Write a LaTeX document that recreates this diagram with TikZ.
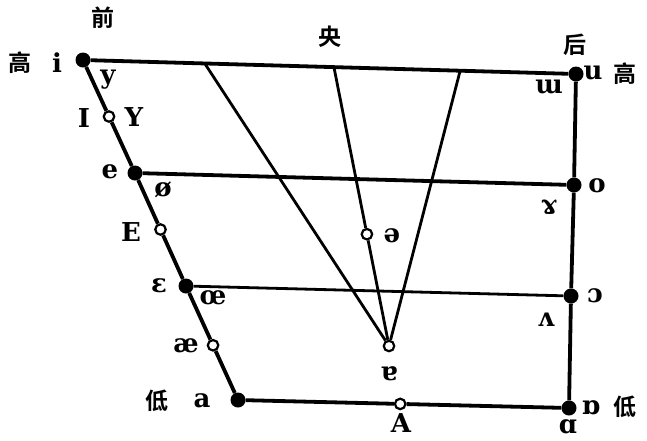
\documentclass[tikz,border=0pt]{standalone}
\usepackage{fontspec}
\setmainfont{DejaVu Serif}
\newfontfamily\cjk{Noto Sans CJK SC}[BoldFont={Noto Sans CJK SC Bold}]
\usetikzlibrary{calc}
\tikzset{
  vowel-full/.style={circle,fill=black,inner sep=0pt,minimum size=15pt},
  vowel-open/.style={circle,draw=black,fill=white,line width=2.2pt,inner sep=0pt,minimum size=10.5pt},
  edge-main/.style={line width=3.8pt},
  edge-mid/.style={line width=2.8pt},
  ipa-label/.style={inner sep=0pt,font=\bfseries\fontsize{26}{30}\selectfont},
  cjk-label/.style={inner sep=0pt,font=\cjk\bfseries\fontsize{23}{26}\selectfont},
}

\begin{document}
\begin{tikzpicture}[x=1pt,y=-1pt]
  \useasboundingbox (0,0) rectangle (647,440);
  % corner and edge vowels
  \node[vowel-full] (i)   at (83,60)   {};
  \node[vowel-full] (u)   at (576,74)  {};
  \node[vowel-full] (e)   at (135,173) {};
  \node[vowel-full] (o)   at (574,185) {};
  \node[vowel-full] (eps) at (186,286) {};
  \node[vowel-full] (oo)  at (571,296) {};
  \node[vowel-full] (a)   at (238,400) {};
  \node[vowel-full] (ao)  at (569,408) {};
  % points on the top line
  \coordinate (t1) at ($(i)!0.247!(u)$);
  \coordinate (t2) at ($(i)!0.509!(u)$);
  \coordinate (t3) at ($(i)!0.765!(u)$);
  % open vowels in between
  \node[vowel-open] (ce)    at (389,346) {};
  \node[vowel-open] (schwa) at ($(t2)!0.599!(ce)$) {};
  \node[vowel-open] (iy)    at ($(i)!0.5!(e)$) {};
  \node[vowel-open] (E)     at ($(e)!0.5!(eps)$) {};
  \node[vowel-open] (ae)    at ($(eps)!0.52!(a)$) {};
  \node[vowel-open] (A)     at ($(a)!0.49!(ao)$) {};

  % lines
  \draw[edge-main] (i) -- (u);
  \draw[edge-main] (u) -- (o) -- (oo) -- (ao);
  \draw[edge-main] (a) -- (A) -- (ao);
  \draw[edge-main] (i) -- (iy) -- (e) -- (E) -- (eps) -- (ae) -- (a);
  \draw[edge-main] (e) -- (o);
  \draw[edge-mid] (eps) -- (oo);
  \draw[edge-mid] (t1) -- (ce);
  \draw[edge-mid] (t2) -- (schwa) -- (ce);
  \draw[edge-mid] (t3) -- (ce);

  % labels
  \node[cjk-label] (l-front) at (103,18)  {前};
  \node[cjk-label] (l-mid)   at (330,37)  {央};
  \node[cjk-label] (l-back)  at (575,45)  {后};
  \node[cjk-label] (l-hi1)   at (20,63)   {高};
  \node[cjk-label] (l-hi2)   at (625,74)  {高};
  \node[cjk-label] (l-lo1)   at (157,401) {低};
  \node[cjk-label] (l-lo2)   at (625,407) {低};

  \node[ipa-label] (l-i)  at (57,63)   {i};
  \node[ipa-label] (l-y)  at (108,80)  {y};
  \node[ipa-label] (l-I)  at (84,118)  {I};
  \node[ipa-label] (l-Y)  at (134,117) {Y};
  \node[ipa-label] (l-e)  at (110,172) {e};
  \node[ipa-label] (l-oe) at (163,190) {ø};
  \node[ipa-label] (l-E)  at (131,232) {E};
  \node[ipa-label] (l-eps) at (159,286) {ɛ};
  \node[ipa-label] (l-oel) at (213,298) {œ};
  \node[ipa-label] (l-ae) at (186,346) {æ};
  \node[ipa-label] (l-a)  at (202,401) {a};
  \node[ipa-label] (l-A)  at (401,423) {A};
  \node[ipa-label] (l-al) at (568,427) {ɑ};
  \node[ipa-label] (l-ao) at (591,408) {ɒ};
  \node[ipa-label] (l-oo) at (595,296) {ɔ};
  \node[ipa-label] (l-v)  at (546,320) {ʌ};
  \node[ipa-label] (l-o)  at (597,186) {o};
  \node[ipa-label] (l-ram) at (549,207) {ɤ};
  \node[ipa-label] (l-m)  at (549,87)  {ɯ};
  \node[ipa-label] (l-u)  at (593,73)  {u};
  \node[ipa-label] (l-sch) at (392,236) {ə};
  \node[ipa-label] (l-ce) at (389,374) {ɐ};
\end{tikzpicture}
\end{document}
